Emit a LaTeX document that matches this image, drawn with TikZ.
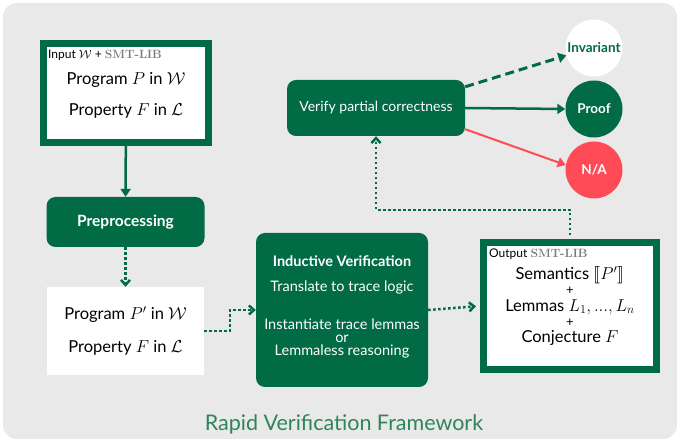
\documentclass[tikz,border=0pt]{standalone}
\usepackage{fontspec}
\setsansfont{Lato}
\usepackage{amsmath,amssymb,stmaryrd}
\usetikzlibrary{arrows.meta}
\definecolor{rvgreen}{HTML}{006B45}
\definecolor{rvred}{HTML}{FF4B55}
\definecolor{rvgray}{HTML}{E9E9E9}
\definecolor{rvtitle}{HTML}{2F855A}
\definecolor{lbgray}{HTML}{7A7A7A}
\begin{document}
\begin{tikzpicture}[x=1pt, y=-1pt,
        frame/.style={draw=rvgreen, line width=7pt, fill=white, inner sep=0pt},
        procbox/.style={fill=rvgreen, rounded corners=9pt, text=white, inner sep=0pt},
        flow/.style={draw=rvgreen, line width=2.5pt, -{Triangle[length=8pt,width=10pt]}},
        dots/.style={draw=rvgreen, line width=2.5pt, dash pattern=on 2.5pt off 2.5pt,
            -{Straight Barb[length=5pt,width=9pt,line width=2.5pt]}},
        result/.style={circle, minimum size=57pt, inner sep=0pt, font=\sffamily\bfseries\fontsize{13.5}{15}\selectfont},
        txt/.style={font=\sffamily\fontsize{16.5}{18}\selectfont},
        small/.style={font=\sffamily\fontsize{14.5}{15}\selectfont, text=white},
        tag/.style={anchor=west, font=\sffamily\fontsize{12}{13}\selectfont, inner sep=0pt},
        plus/.style={font=\sffamily\fontsize{13}{13}\selectfont, inner sep=0pt}]
        \useasboundingbox (0,0) rectangle (678,443);
        % Background
        \fill[rvgray, rounded corners=14pt] (3,3) rectangle (677,439);

        % Input
        \node[frame, minimum width=165pt, minimum height=99pt] (input) at (126,93) {};
        \node[tag] (inlabel) at (48,55)
            {Input $\mathcal{W}$ + \textcolor{lbgray}{\rmfamily\bfseries SMT-LIB}};
        \node[txt] (inprog) at (126,80) {Program $P$ in $\mathcal{W}$};
        \node[txt] (inprop) at (126,111) {Property $F$ in $\mathcal{L}$};

        % Preprocessing
        \node[procbox, minimum width=158pt, minimum height=50pt,
            font=\sffamily\bfseries\fontsize{15.5}{17}\selectfont] (prep) at (125.5,222) {Preprocessing};
        \node[fill=white, minimum width=157pt, minimum height=88pt] (pbox) at (125.5,331) {};
        \node[txt] (pprog) at (125.5,315) {Program $P'$ in $\mathcal{W}$};
        \node[txt] (pprop) at (125.5,348) {Property $F$ in $\mathcal{L}$};

        % Inductive verification
        \node[procbox, minimum width=172pt, minimum height=154pt] (induct) at (342,310) {};
        \node[small, font=\sffamily\bfseries\fontsize{14.5}{16}\selectfont] (indtitle) at (342,261) {Inductive Verification};
        \node[small] (indtrans) at (342,287) {Translate to trace logic};
        \node[small, align=center] (indinst) at (342,338) {Instantiate trace lemmas\\[-2pt]or\\[-2pt]Lemmaless reasoning};

        % Output
        \node[frame, minimum width=173pt, minimum height=127pt] (outbox) at (570,306) {};
        \node[tag] (outlabel) at (489,254)
            {Output \textcolor{lbgray}{\rmfamily\bfseries SMT-LIB}};
        \node[txt, inner sep=0pt] (sem) at (570,275) {Semantics $\llbracket P'\rrbracket$};
        \node[plus] (plus1) at (570,291) {+};
        \node[txt, inner sep=0pt] (lem) at (570,307) {Lemmas $L_1, ..., L_n$};
        \node[plus] (plus2) at (570,323) {+};
        \node[txt, inner sep=0pt] (conj) at (570,338) {Conjecture $F$};

        % Verify and results
        \node[procbox, minimum width=178pt, minimum height=56pt] (verify) at (376,108) {};
        \node[small, font=\sffamily\fontsize{14}{15}\selectfont] (vertext) at (376,108) {Verify partial correctness};
        \node[result, fill=white, text=rvgreen] (inv) at (594,48) {Invariant};
        \node[result, fill=rvgreen, text=white] (proof) at (594,109) {Proof};
        \node[result, fill=rvred, text=white] (na) at (594,170) {N/A};
        \coordinate (turn) at (376,210);

        % Arrows
        \draw[flow] (input) -- (prep);
        \draw[dots] (prep) -- (pbox);
        \draw[dots] (pbox.east) -- ++(26,0) |- (induct.west);
        \draw[dots, shorten >=4pt] (induct.east) -- (outbox.west);
        \draw[dots, shorten <=3.5pt] (outbox.north) |- (turn) -- (verify.south);
        \draw[flow, line width=3pt, dash pattern=on 9pt off 5pt] ([yshift=-7pt]verify.north east) -- (inv.195);
        \draw[flow] (verify.east) -- (proof.west);
        \draw[flow, draw=rvred, fill=rvred, line width=2pt] ([yshift=7pt]verify.south east) -- (na.170);

        % Caption
        \node[font=\sffamily\fontsize{21.5}{23}\selectfont, text=rvtitle] (caption) at (344,424) {Rapid Verification Framework};
\end{tikzpicture}
\end{document}
